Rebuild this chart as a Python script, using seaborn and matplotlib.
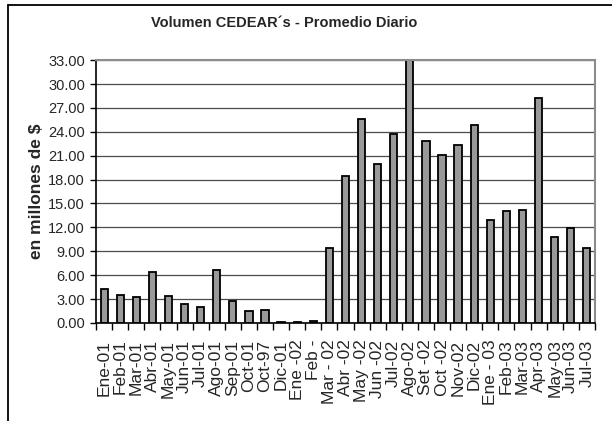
import matplotlib
matplotlib.use("Agg")
import matplotlib.pyplot as plt
import seaborn as sns
import pandas as pd
from matplotlib.lines import Line2D
from matplotlib.ticker import FixedLocator, FormatStrFormatter

# Datos
meses = ["Ene-01", "Feb-01", "Mar-01", "Abr-01", "May-01", "Jun-01", "Jul-01",
         "Ago-01", "Sep-01", "Oct-01", "Oct-97", "Dic-01", "Ene -02", "Feb -",
         "Mar - 02", "Abr -02", "May -02", "Jun -02", "Jul-02", "Ago-02",
         "Set -02", "Oct -02", "Nov-02", "Dic-02", "Ene - 03", "Feb-03",
         "Mar-03", "Apr-03", "May-03", "Jun-03", "Jul-03"]
volumen = [4.2, 3.55, 3.25, 6.45, 3.4, 2.35, 2.0,
           6.65, 2.75, 1.45, 1.6, 0.1, 0.1, 0.25,
           9.4, 18.4, 25.65, 19.9, 23.7, 33.0,
           22.9, 21.15, 22.35, 24.85, 12.95, 14.1,
           14.2, 28.2, 10.85, 11.9, 9.35]
yticks = [0, 3, 6, 9, 12, 15, 18, 21, 24, 27, 30, 33]

df = pd.DataFrame({"mes": meses, "volumen": volumen})

sns.set_style("white")
plt.rcParams["font.family"] = ["Liberation Sans", "DejaVu Sans"]

fig = plt.figure(figsize=(6.12, 4.21), dpi=100)
ax = fig.add_axes([0.157, 0.233, 0.815, 0.624])

sns.barplot(x="mes", y="volumen", data=df, color="#999999", saturation=1,
            edgecolor="black", linewidth=1.3, width=0.45, ax=ax)

ax.set_xlim(-0.5, len(meses) - 0.5)
ax.set_ylim(0, 33)
ax.yaxis.set_major_locator(FixedLocator(yticks))
ax.yaxis.set_major_formatter(FormatStrFormatter("%.2f"))
ax.set_axisbelow(True)
ax.yaxis.grid(True, color="#4a4a4a", linewidth=0.9)

# ticks del eje de categorias entre barras
ax.set_xticks([i + 0.5 for i in range(-1, len(meses))], minor=True)
ax.tick_params(axis="x", which="minor", length=5, width=1, color="black",
               direction="out", bottom=True)
ax.tick_params(axis="x", which="major", length=0, pad=12)
ax.tick_params(axis="y", length=4, width=1, color="black", direction="out",
               left=True, pad=4, labelsize=10.5)
plt.setp(ax.get_xticklabels(), rotation=90, fontsize=12.5)

for s in ["left", "bottom"]:
    ax.spines[s].set_color("black")
    ax.spines[s].set_linewidth(1.2)
for s in ["top", "right"]:
    ax.spines[s].set_color("#8c8c8c")
    ax.spines[s].set_linewidth(1.5)

ax.set_xlabel("")
ax.set_ylabel("en millones de $", fontsize=12.5, fontweight="bold", labelpad=3)

fig.text(284 / 612, 1 - 23 / 421, "Volumen CEDEAR\u00b4s - Promedio Diario",
         ha="center", va="center", fontsize=10.5, fontweight="bold")

# borde del area del grafico
fig.add_artist(Line2D([8 / 612, 8 / 612], [0, 1 - 5 / 421], color="black",
                      linewidth=1.3, transform=fig.transFigure))
fig.add_artist(Line2D([8 / 612, 1], [1 - 5 / 421, 1 - 5 / 421], color="black",
                      linewidth=1.3, transform=fig.transFigure))

fig.savefig("out.png", dpi=100)
